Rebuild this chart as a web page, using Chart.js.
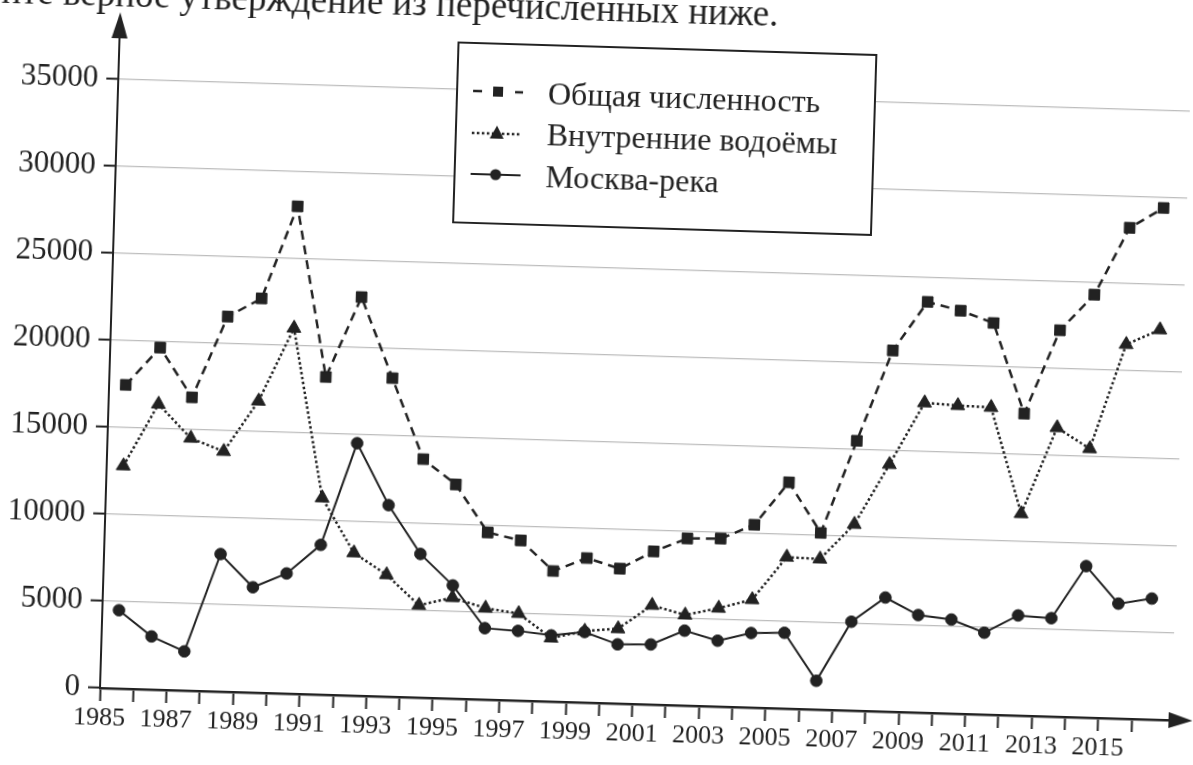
<!DOCTYPE html>
<html lang="ru">
<head>
<meta charset="utf-8">
<title>Численность</title>
<script src="https://cdn.jsdelivr.net/npm/chart.js@4.4.0/dist/chart.umd.min.js"></script>
<style>
  html, body { margin: 0; padding: 0; background: #fff; overflow: hidden; }
  /* the scanned page is slightly turned, so the whole sheet is too */
  #sheet { position: relative; width: 1193px; height: 765px; transform: rotate(1.72deg); transform-origin: 100px 688px; }
  #chart { position: absolute; left: 0; top: 0; }
  .caption { position: absolute; right: 435px; top: -25px; font: 37px/37px "Liberation Serif", serif; color: #222; white-space: nowrap; }
  .legend { position: absolute; left: 438px; top: 31px; width: 420px; height: 182px; box-sizing: border-box; border: 2px solid #222; background: #fff; }
  .legend .row { position: absolute; left: 0; height: 40px; display: flex; align-items: center; font: 32px "Liberation Serif", serif; color: #222; white-space: nowrap; }
  .legend svg { margin-left: 15px; margin-right: 25px; }
</style>
</head>
<body>
<div id="sheet">
  <canvas id="chart" width="1193" height="765"></canvas>
  <div class="caption">Выберите верное утверждение из перечисленных ниже.</div>
  <div class="legend">
    <div class="row" style="top:27px">
      <svg width="50" height="20"><line x1="0" y1="10" x2="50" y2="10" stroke="#222" stroke-width="2.5" stroke-dasharray="9 12"/><rect x="20" y="5" width="10" height="10" fill="#222"/></svg>
      Общая численность
    </div>
    <div class="row" style="top:68px">
      <svg width="50" height="20"><line x1="0" y1="11" x2="50" y2="11" stroke="#222" stroke-width="2.5" stroke-dasharray="2.5 2.5"/><polygon points="25,3 32,16 18,16" fill="#222"/></svg>
      Внутренние водоёмы
    </div>
    <div class="row" style="top:110px">
      <svg width="50" height="20"><line x1="0" y1="10" x2="50" y2="10" stroke="#222" stroke-width="2"/><circle cx="25" cy="10" r="5.5" fill="#222"/></svg>
      Москва-река
    </div>
  </div>
</div>
<script>
// Численность по годам

const years = [1985, 1986, 1987, 1988, 1989, 1990, 1991, 1992, 1993, 1994, 1995, 1996, 1997, 1998, 1999, 2000,
               2001, 2002, 2003, 2004, 2005, 2006, 2007, 2008, 2009, 2010, 2011, 2012, 2013, 2014, 2015, 2016];
const total = [17450, 19650, 16850, 21550, 22650, 28000, 18250, 22900, 18300, 13700, 12300, 9600, 9200, 7500, 8300, 7750,
               8800, 9600, 9650, 10500, 13000, 10150, 15500, 20750, 23600, 23150, 22500, 17350, 22200, 24300, 28200, 29400];
const inland = [12800, 16400, 14500, 13800, 16750, 21000, 11300, 8200, 7000, 5300, 5800, 5250, 5000, 3650, 4100, 4300,
                5700, 5200, 5650, 6200, 8700, 8650, 10700, 14200, 17800, 17700, 17650, 11600, 16600, 15450, 21500, 22400];
const moskva = [4500, 3050, 2250, 7900, 6050, 6900, 8600, 14500, 11000, 8250, 6500, 4100, 4000, 3800, 4050, 3400,
                3450, 4300, 3780, 4280, 4350, 1650, 5100, 6550, 5600, 5400, 4700, 5750, 5650, 8700, 6600, 6950];
const yearLabels = [1985, 1987, 1989, 1991, 1993, 1995, 1997, 1999, 2001, 2003, 2005, 2007, 2009, 2011, 2013, 2015];
const yTicks = [0, 5000, 10000, 15000, 20000, 25000, 30000, 35000];

const ink = '#222';

// each value sits in the middle of its year
function points(vals) {
  return years.map((y, i) => ({ x: y + 0.5, y: vals[i] }));
}

const axisArrows = {
  id: 'axisArrows',
  afterDraw(chart) {
    const ctx = chart.ctx;
    const a = chart.chartArea;
    ctx.save();
    ctx.strokeStyle = ink;
    ctx.fillStyle = ink;
    ctx.lineWidth = 2;
    ctx.beginPath();
    ctx.moveTo(a.left, a.top);
    ctx.lineTo(a.left, 30);
    ctx.stroke();
    ctx.beginPath();
    ctx.moveTo(a.left, 12);
    ctx.lineTo(a.left - 8, 38);
    ctx.lineTo(a.left + 8, 38);
    ctx.closePath();
    ctx.fill();
    ctx.lineWidth = 2.5;
    ctx.beginPath();
    ctx.moveTo(a.right, a.bottom);
    ctx.lineTo(chart.width - 15, a.bottom);
    ctx.stroke();
    ctx.beginPath();
    ctx.moveTo(chart.width, a.bottom);
    ctx.lineTo(chart.width - 24, a.bottom - 8);
    ctx.lineTo(chart.width - 24, a.bottom + 8);
    ctx.closePath();
    ctx.fill();
    ctx.restore();
  }
};

function initChart() {
  const ctx = document.getElementById('chart').getContext('2d');
  new Chart(ctx, {
    type: 'line',
    data: {
      datasets: [
        {
          label: 'Общая численность',
          data: points(total),
          borderColor: ink,
          borderWidth: 2.5,
          borderDash: [9, 6],
          pointStyle: 'rect',
          pointRadius: 7.5,
          pointBackgroundColor: ink,
          pointBorderColor: ink,
          pointBorderWidth: 1
        },
        {
          label: 'Внутренние водоёмы',
          data: points(inland),
          borderColor: ink,
          borderWidth: 2.5,
          borderDash: [2.5, 2.5],
          pointStyle: 'triangle',
          pointRadius: 8,
          pointBackgroundColor: ink,
          pointBorderColor: ink,
          pointBorderWidth: 1
        },
        {
          label: 'Москва-река',
          data: points(moskva),
          borderColor: ink,
          borderWidth: 2,
          pointStyle: 'circle',
          pointRadius: 5.8,
          pointBackgroundColor: ink,
          pointBorderColor: ink,
          pointBorderWidth: 1
        }
      ]
    },
    options: {
      responsive: false,
      animation: false,
      devicePixelRatio: 1,
      layout: { padding: { top: 25, right: 21, left: 0, bottom: 0 } },
      plugins: {
        legend: { display: false },
        tooltip: { enabled: false }
      },
      scales: {
        x: {
          type: 'linear',
          min: 1985,
          max: 2017.2,
          afterBuildTicks: (axis) => { axis.ticks = years.map(v => ({ value: v })); },
          afterFit: (axis) => { axis.height = 77; },
          ticks: {
            autoSkip: false,
            maxRotation: 0,
            padding: 2,
            color: ink,
            font: { family: 'Liberation Serif', size: 26 },
            callback: (v) => yearLabels.includes(v) ? String(v) : ''
          },
          grid: { drawOnChartArea: false, drawTicks: true, tickLength: 13, tickColor: ink, tickWidth: 2 },
          border: { color: ink, width: 2.5 }
        },
        y: {
          min: 0,
          max: 38000,
          afterBuildTicks: (axis) => { axis.ticks = yTicks.map(v => ({ value: v })); },
          afterFit: (axis) => { axis.width = 100; },
          ticks: {
            padding: 8,
            color: ink,
            font: { family: 'Liberation Serif', size: 31 },
            callback: (v) => String(v)
          },
          grid: { color: '#bdbdbd', lineWidth: 1.2, tickLength: 12, tickColor: ink, tickWidth: 2 },
          border: { color: ink, width: 2 }
        }
      }
    },
    plugins: [axisArrows]
  });
}

window.addEventListener('load', initChart);
</script>
</body>
</html>
